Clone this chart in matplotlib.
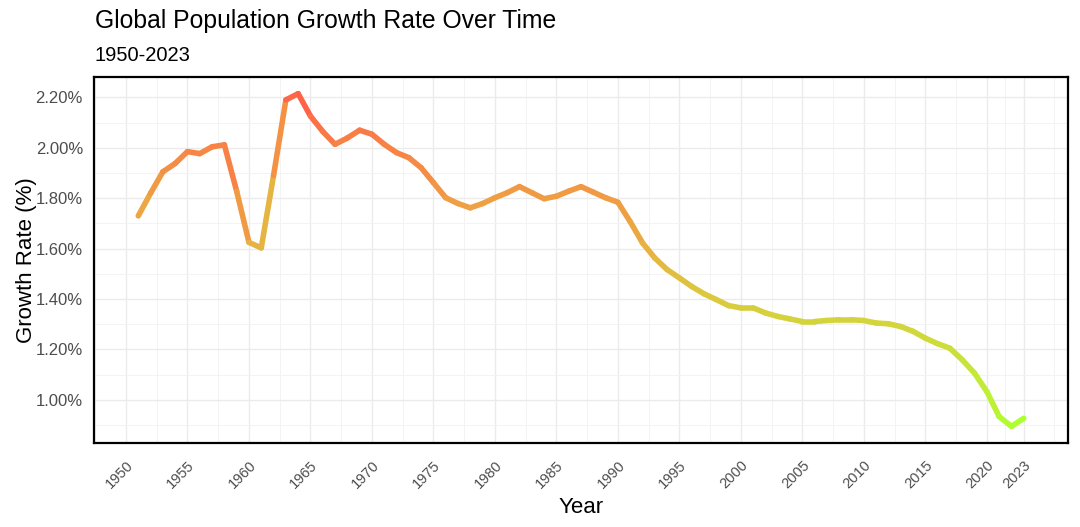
import numpy as np
import matplotlib
matplotlib.use("Agg")
import matplotlib.pyplot as plt
from matplotlib.collections import LineCollection
from matplotlib.ticker import FixedLocator, FuncFormatter

years = list(range(1951, 2024))
growth = [1.73, 1.82, 1.905, 1.938, 1.985, 1.977, 2.004, 2.012, 1.828, 1.625,
          1.603, 1.89, 2.19, 2.215, 2.126, 2.065, 2.014, 2.039, 2.07, 2.054,
          2.014, 1.981, 1.961, 1.921, 1.862, 1.802, 1.779, 1.762, 1.779, 1.802,
          1.822, 1.846, 1.822, 1.798, 1.808, 1.828, 1.846, 1.824, 1.802, 1.784,
          1.707, 1.623, 1.563, 1.517, 1.484, 1.45, 1.421, 1.398, 1.374, 1.365,
          1.365, 1.345, 1.331, 1.321, 1.311, 1.311, 1.315, 1.318, 1.318, 1.315,
          1.305, 1.302, 1.291, 1.272, 1.245, 1.223, 1.205, 1.159, 1.106, 1.033,
          0.934, 0.895, 0.927]
x_breaks = list(range(1950, 2021, 5)) + [2023]
y_breaks = [1.0, 1.2, 1.4, 1.6, 1.8, 2.0, 2.2]
title = "Global Population Growth Rate Over Time"
subtitle = "1950-2023"
low_color = "#ADFF2F"
high_color = "#FF6347"

# --- Lab colour interpolation (like ggplot's scale_colour_gradient) ---
def hex2rgb(h):
    h = h.lstrip("#")
    return np.array([int(h[i:i + 2], 16) / 255 for i in (0, 2, 4)])

M = np.array([[0.4124564, 0.3575761, 0.1804375],
              [0.2126729, 0.7151522, 0.0721750],
              [0.0193339, 0.1191920, 0.9503041]])
WHITE = np.array([0.95047, 1.0, 1.08883])

def rgb2lab(rgb):
    lin = np.where(rgb <= 0.04045, rgb / 12.92, ((rgb + 0.055) / 1.055) ** 2.4)
    xyz = M @ lin / WHITE
    f = np.where(xyz > (6 / 29) ** 3, np.cbrt(xyz), xyz / (3 * (6 / 29) ** 2) + 4 / 29)
    return np.array([116 * f[1] - 16, 500 * (f[0] - f[1]), 200 * (f[1] - f[2])])

def lab2rgb(lab):
    L, a, b = lab
    fy = (L + 16) / 116
    fx = fy + a / 500
    fz = fy - b / 200
    f = np.array([fx, fy, fz])
    xyz = np.where(f > 6 / 29, f ** 3, 3 * (6 / 29) ** 2 * (f - 4 / 29)) * WHITE
    lin = np.linalg.solve(M, xyz)
    lin = np.clip(lin, 0, 1)
    rgb = np.where(lin <= 0.0031308, 12.92 * lin, 1.055 * lin ** (1 / 2.4) - 0.055)
    return np.clip(rgb, 0, 1)

lab_lo = rgb2lab(hex2rgb(low_color))
lab_hi = rgb2lab(hex2rgb(high_color))

yrs = np.array(years, dtype=float)
vals = np.array(growth, dtype=float)
vmin, vmax = vals.min(), vals.max()
def colour(v):
    t = (v - vmin) / (vmax - vmin)
    return lab2rgb(lab_lo + t * (lab_hi - lab_lo))

pts = np.column_stack([yrs, vals])
segs = np.stack([pts[:-1], pts[1:]], axis=1)
cols = [colour(v) for v in vals[:-1]]

plt.rcParams["font.family"] = ["Liberation Sans", "DejaVu Sans"]
fig = plt.figure(figsize=(10.8, 5.27), dpi=100)
ax = fig.add_axes([94 / 1080, 1 - 443 / 527, (1068 - 94) / 1080, (443 - 77) / 527])

lc = LineCollection(segs, colors=cols, linewidths=4.0, capstyle="round", joinstyle="round", zorder=3)
ax.add_collection(lc)

xr = yrs.max() - yrs.min()
ax.set_xlim(yrs.min() - 0.05 * xr, yrs.max() + 0.05 * xr)
yrng = vmax - vmin
ax.set_ylim(vmin - 0.05 * yrng, vmax + 0.05 * yrng)

ax.xaxis.set_major_locator(FixedLocator(x_breaks))
ax.yaxis.set_major_locator(FixedLocator(y_breaks))
x_minor = list(np.arange(1947.5, 2020, 5)) + [2021.5, 2025.5]
ax.xaxis.set_minor_locator(FixedLocator(x_minor))
ax.yaxis.set_minor_locator(FixedLocator([0.9, 1.1, 1.3, 1.5, 1.7, 1.9, 2.1, 2.3]))
ax.yaxis.set_major_formatter(FuncFormatter(lambda v, p: f"{v:.2f}%"))

ax.grid(which="major", color="#EBEBEB", linewidth=1.0, zorder=0)
ax.grid(which="minor", color="#F3F3F3", linewidth=0.7, zorder=0)
ax.set_axisbelow(True)
ax.tick_params(which="both", length=0)
ax.tick_params(axis="y", labelsize=12, labelcolor="#4D4D4D", pad=8)
ax.tick_params(axis="x", labelsize=10.5, labelcolor="#4D4D4D", pad=11)
for lab in ax.get_xticklabels():
    lab.set_rotation(45)
    lab.set_ha("right")
    lab.set_va("top")
    lab.set_rotation_mode("anchor")

for s in ax.spines.values():
    s.set_color("black")
    s.set_linewidth(1.6)

ax.set_xlabel("Year", fontsize=16, labelpad=4)
ax.set_ylabel("Growth Rate (%)", fontsize=16, labelpad=-1)

fig.text(95 / 1080, 1 - 21 / 527, title, fontsize=17.8, ha="left", va="center")
fig.text(95 / 1080, 1 - 56 / 527, subtitle, fontsize=14.5, ha="left", va="center")

fig.savefig("out.png", dpi=100, facecolor="white")
